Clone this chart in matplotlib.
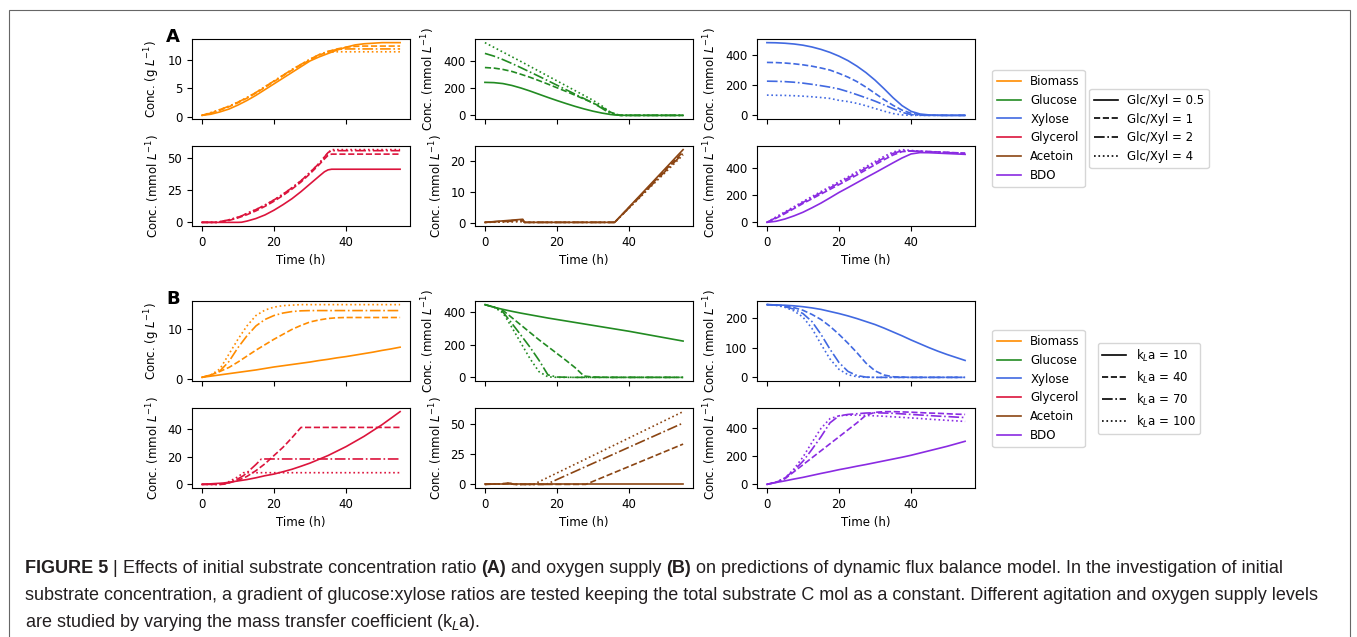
import matplotlib
matplotlib.use("Agg")
import matplotlib.pyplot as plt
from matplotlib.patches import Rectangle

plt.rcParams['font.family'] = ['DejaVu Sans']
FS = 8.5
plt.rcParams['font.size'] = FS

# ---------------- data ----------------
T25 = [0, 2.5, 5, 7.5, 10, 12.5, 15, 17.5, 20, 22.5, 25, 27.5, 30, 32.5, 35,
       37.5, 40, 42.5, 45, 47.5, 50, 52.5, 55]

# Panel A : Glc/Xyl = 0.5, 1, 2, 4
A_biomass_t = T25
A_biomass = [
    [0.3, 0.5, 0.9, 1.4, 2.1, 2.9, 3.8, 4.8, 5.8, 6.8, 7.8, 8.8, 9.8, 10.5, 11.1, 11.7, 12.2, 12.6, 12.8, 12.9, 13.0, 13.0, 13.0],
    [0.3, 0.7, 1.2, 1.8, 2.5, 3.3, 4.2, 5.2, 6.2, 7.2, 8.2, 9.1, 10.0, 10.8, 11.4, 11.9, 12.2, 12.35, 12.4, 12.4, 12.4, 12.4, 12.4],
    [0.3, 0.7, 1.3, 1.9, 2.6, 3.4, 4.3, 5.3, 6.3, 7.3, 8.3, 9.2, 10.1, 10.9, 11.5, 11.8, 11.9, 11.9, 11.9, 11.9, 11.9, 11.9, 11.9],
    [0.3, 0.8, 1.3, 1.9, 2.6, 3.4, 4.3, 5.3, 6.3, 7.3, 8.3, 9.2, 10.1, 10.9, 11.3, 11.4, 11.4, 11.4, 11.4, 11.4, 11.4, 11.4, 11.4],
]
A_glucose_t = T25
A_glucose = [
    [245, 243, 236, 222, 203, 181, 157, 133, 110, 88, 67, 48, 31, 17, 6, 1, 0, 0, 0, 0, 0, 0, 0],
    [355, 351, 341, 326, 305, 283, 258, 232, 205, 178, 150, 121, 92, 60, 22, 0, 0, 0, 0, 0, 0, 0, 0],
    [460, 440, 414, 385, 354, 322, 290, 257, 224, 191, 158, 125, 92, 52, 10, 0, 0, 0, 0, 0, 0, 0, 0],
    [540, 505, 470, 435, 400, 364, 328, 292, 256, 220, 184, 148, 112, 70, 18, 0, 0, 0, 0, 0, 0, 0, 0],
]
A_xylose_t = T25
A_xylose = [
    [485, 484, 481, 476, 468, 456, 440, 420, 395, 365, 328, 285, 235, 178, 118, 65, 27, 9, 3, 1, 0, 0, 0],
    [353, 352, 349, 344, 337, 328, 316, 302, 280, 255, 225, 188, 147, 105, 67, 35, 14, 4, 1, 0, 0, 0, 0],
    [228, 227, 225, 221, 215, 207, 198, 188, 176, 158, 138, 117, 95, 70, 45, 20, 5, 1, 0, 0, 0, 0, 0],
    [135, 134, 133, 131, 128, 124, 119, 113, 100, 92, 80, 64, 46, 28, 12, 3, 0, 0, 0, 0, 0, 0, 0],
]
A_glycerol_t = [0, 2.5, 4, 5, 7.5, 10, 11, 12.5, 15, 17.5, 20, 22.5, 25, 27.5, 30, 32.5, 34, 35, 36, 40, 45, 50, 55]
A_glycerol = [
    [0, 0, 0, 0, 0, 0, 0.1, 1.0, 3.0, 5.8, 9.5, 13.8, 18.5, 24, 30, 36, 39.5, 41, 41.5, 41.5, 41.5, 41.5, 41.5],
    [0, 0, 0, 0.3, 1.5, 3.5, 4.5, 6, 9, 12.5, 16.5, 21, 26, 31.5, 38, 45, 49.5, 52.3, 53.3, 53.3, 53.3, 53.3, 53.3],
    [0, 0, 0, 0.5, 2, 4, 5, 7, 10, 13.5, 17.5, 22, 27, 32.5, 39, 46, 51, 54.5, 56, 56, 56, 56, 56],
    [0, 0, 0, 0.5, 2, 4, 5, 7, 10, 13.5, 17.5, 22, 27, 32.5, 39, 46, 51, 54.5, 56.8, 56.8, 56.8, 56.8, 56.8],
]
A_acetoin_t = [0, 10.5, 11, 36, 55]
A_acetoin = [
    [0.1, 1.1, 0.1, 0.1, 23.5],
    [0.1, 0.9, 0.1, 0.1, 22.8],
    [0.1, 0.6, 0.1, 0.1, 22.3],
    [0.1, 0.3, 0.1, 0.1, 21.8],
]
A_bdo_t = T25
A_bdo = [
    [0, 8, 25, 48, 75, 108, 143, 182, 222, 258, 295, 332, 368, 405, 442, 478, 508, 518, 517, 514, 511, 508, 505],
    [0, 30, 65, 102, 140, 175, 210, 245, 280, 316, 352, 390, 428, 465, 500, 525, 530, 528, 526, 523, 520, 517, 514],
    [0, 35, 72, 110, 148, 184, 220, 256, 292, 328, 365, 403, 441, 478, 512, 532, 530, 527, 524, 521, 518, 515, 512],
    [0, 40, 78, 116, 155, 192, 229, 265, 302, 338, 376, 414, 452, 490, 522, 540, 534, 529, 525, 522, 519, 516, 513],
]

# Panel B : kLa = 10, 40, 70, 100
B_biomass_t = T25
B_biomass = [
    [0.3, 0.55, 0.8, 1.05, 1.3, 1.55, 1.8, 2.1, 2.4, 2.65, 2.9, 3.15, 3.4, 3.7, 3.95, 4.25, 4.5, 4.8, 5.1, 5.4, 5.75, 6.05, 6.4],
    [0.3, 0.8, 1.5, 2.3, 3.4, 4.6, 5.8, 6.9, 8.0, 9.0, 10.0, 10.8, 11.5, 11.9, 12.2, 12.35, 12.4, 12.4, 12.4, 12.4, 12.4, 12.4, 12.4],
    [0.3, 0.8, 1.6, 3.5, 6.3, 8.7, 10.7, 12.0, 12.8, 13.3, 13.6, 13.75, 13.8, 13.8, 13.8, 13.8, 13.8, 13.8, 13.8, 13.8, 13.8, 13.8, 13.8],
    [0.3, 0.8, 2.0, 5.0, 8.0, 10.7, 12.8, 13.9, 14.5, 14.8, 14.9, 15.0, 15.0, 15.0, 15.0, 15.0, 15.0, 15.0, 15.0, 15.0, 15.0, 15.0, 15.0],
]
B_glucose_t = T25
B_glucose = [
    [445, 429, 416, 404, 393, 383, 373, 363, 354, 345, 336, 327, 318, 309, 300, 291, 282, 272, 262, 252, 242, 232, 222],
    [445, 430, 410, 365, 320, 275, 230, 188, 146, 104, 60, 8, 2, 1, 0, 0, 0, 0, 0, 0, 0, 0, 0],
    [445, 430, 400, 330, 258, 185, 105, 15, 2, 1, 0, 0, 0, 0, 0, 0, 0, 0, 0, 0, 0, 0, 0],
    [445, 430, 395, 305, 210, 115, 35, 3, 0, 0, 0, 0, 0, 0, 0, 0, 0, 0, 0, 0, 0, 0, 0],
]
B_xylose_t = T25
B_xylose = [
    [245, 244, 243, 241, 238, 234, 229, 222, 215, 207, 198, 188, 178, 166, 153, 140, 126, 113, 100, 88, 77, 67, 57],
    [245, 244, 241, 235, 226, 212, 195, 172, 145, 115, 83, 48, 22, 8, 2, 1, 0, 0, 0, 0, 0, 0, 0],
    [245, 243, 238, 230, 215, 188, 145, 95, 50, 20, 6, 1, 0, 0, 0, 0, 0, 0, 0, 0, 0, 0, 0],
    [245, 243, 236, 224, 203, 165, 112, 62, 27, 9, 2, 0, 0, 0, 0, 0, 0, 0, 0, 0, 0, 0, 0],
]
B_glycerol_t = [0, 5, 6, 7.5, 10, 11.5, 12.5, 15, 16.5, 17.5, 20, 22.5, 25, 27.5, 30, 35, 40, 45, 50, 55]
B_glycerol = [
    [0, 0.8, 1.0, 1.5, 2.5, 3.1, 3.5, 4.8, 5.7, 6.3, 7.5, 9.2, 11, 13.2, 15.5, 21, 27.5, 35, 43.5, 53],
    [0, 0, 0.1, 1, 3, 4.6, 5.8, 10, 13, 15, 21, 27, 34, 41.5, 41.5, 41.5, 41.5, 41.5, 41.5, 41.5],
    [0, 0, 0.2, 1.2, 4, 6.3, 8.5, 14.5, 18.5, 18.5, 18.5, 18.5, 18.5, 18.5, 18.5, 18.5, 18.5, 18.5, 18.5, 18.5],
    [0, 0, 0.3, 2, 5.5, 8.5, 8.5, 8.5, 8.5, 8.5, 8.5, 8.5, 8.5, 8.5, 8.5, 8.5, 8.5, 8.5, 8.5, 8.5],
]
B_acetoin_t = [0, 5, 7, 8, 13.5, 17, 28, 55]
B_acetoin = [
    [0, 0, 0, 0, 0, 0, 0, 0],
    [0, 0.5, 1, 0, 0, 0, 0, 33.5],
    [0, 0.5, 1, 0, 0, 0, 14.8, 51],
    [0, 0.5, 1, 0, 0, 5.1, 21.1, 60.5],
]
B_bdo_t = T25
B_bdo = [
    [0, 13, 25, 38, 50, 64, 78, 91, 105, 117, 130, 142, 155, 168, 181, 194, 208, 224, 240, 256, 272, 290, 308],
    [0, 15, 40, 90, 140, 190, 240, 290, 340, 390, 440, 495, 515, 520, 520, 518, 516, 513, 510, 508, 505, 502, 500],
    [0, 15, 45, 100, 165, 250, 340, 440, 490, 500, 505, 510, 512, 510, 508, 504, 500, 496, 492, 488, 485, 481, 478],
    [0, 15, 45, 110, 195, 300, 400, 470, 490, 495, 495, 493, 490, 487, 483, 479, 475, 471, 466, 462, 458, 454, 450],
]

species = ["Biomass", "Glucose", "Xylose", "Glycerol", "Acetoin", "BDO"]
colors = ["darkorange", "forestgreen", "royalblue", "crimson", "saddlebrown", "blueviolet"]
styles = ["-", "--", "-.", ":"]
labels_A = ["Glc/Xyl = 0.5", "Glc/Xyl = 1", "Glc/Xyl = 2", "Glc/Xyl = 4"]
labels_B = [r"k$_L$a = 10", r"k$_L$a = 40", r"k$_L$a = 70", r"k$_L$a = 100"]
ylab_g = r"Conc. (g $L^{-1}$)"
ylab_m = r"Conc. (mmol $L^{-1}$)"

# ---------------- figure ----------------
W, H = 1357, 637
fig = plt.figure(figsize=(W / 100, H / 100), dpi=100)

def rect(left, top, w=218, h=80):
    return [left / W, 1 - (top + h) / H, w / W, h / H]

col_left = [192, 475, 757]

def draw_panel(row_tops, data, series_labels, letter, leg_y):
    grid = [[0, 1, 2], [3, 4, 5]]
    for r in range(2):
        for c in range(3):
            k = grid[r][c]
            ax = fig.add_axes(rect(col_left[c], row_tops[r]))
            t, ys = data[k]
            for s, y in enumerate(ys):
                ax.plot(t, y, color=colors[k], ls=styles[s], lw=1.2)
            ax.set_xticks([0, 20, 40])
            ax.set_ylabel(ylab_g if k == 0 else ylab_m, fontsize=FS)
            ax.tick_params(labelsize=FS)
            if r == 0:
                ax.set_xticklabels([])
            else:
                ax.set_xlabel("Time (h)", fontsize=FS)
    fig.text(166 / W, 1 - (row_tops[0] + 3) / H, letter, fontsize=13,
             fontweight="bold", ha="left", va="baseline")
    h1 = [plt.Line2D([], [], color=colors[i], lw=1.2) for i in range(6)]
    fig.legend(h1, species, loc="center", bbox_to_anchor=(1038.5 / W, 1 - leg_y / H),
               fontsize=FS, frameon=True)
    h2 = [plt.Line2D([], [], color="black", ls=styles[i], lw=1.2) for i in range(4)]
    fig.legend(h2, series_labels, loc="center", bbox_to_anchor=(1149 / W, 1 - leg_y / H),
               fontsize=FS, frameon=True)

dataA = [(A_biomass_t, A_biomass), (A_glucose_t, A_glucose), (A_xylose_t, A_xylose),
         (A_glycerol_t, A_glycerol), (A_acetoin_t, A_acetoin), (A_bdo_t, A_bdo)]
dataB = [(B_biomass_t, B_biomass), (B_glucose_t, B_glucose), (B_xylose_t, B_xylose),
         (B_glycerol_t, B_glycerol), (B_acetoin_t, B_acetoin), (B_bdo_t, B_bdo)]

draw_panel([39, 146], dataA, labels_A, "A", 128.5)
draw_panel([301, 408], dataB, labels_B, "B", 388.5)

# outer border
fig.patches.append(Rectangle((8.5 / W, -0.1), (1349.5 - 8.5) / W, 1.1 - 9.5 / H,
                             transform=fig.transFigure, fill=False,
                             edgecolor="#666666", lw=0.8))

# caption
renderer = fig.canvas.get_renderer()
cap_font = ["Liberation Sans", "DejaVu Sans"]
CFS = 13

def caption_line(pieces, x_px, y_px):
    x = x_px / W
    for txt, bold in pieces:
        t = fig.text(x, 1 - y_px / H, txt, fontsize=CFS, family=cap_font,
                     fontweight="bold" if bold else "normal", ha="left", va="baseline",
                     color="#231f20")
        bb = t.get_window_extent(renderer)
        x = bb.x1 / W

caption_line([("FIGURE 5", True), (" | ", False),
              ("Effects of initial substrate concentration ratio ", False), ("(A)", True),
              (" and oxygen supply ", False), ("(B)", True),
              (" on predictions of dynamic flux balance model. In the investigation of initial", False)],
             25, 573)
caption_line([("substrate concentration, a gradient of glucose:xylose ratios are tested keeping the total substrate C mol as a constant. Different agitation and oxygen supply levels", False)],
             25, 600)
caption_line([("are studied by varying the mass transfer coefficient (k$_L$a).", False)], 25, 627)

fig.savefig("out.png", dpi=100)
